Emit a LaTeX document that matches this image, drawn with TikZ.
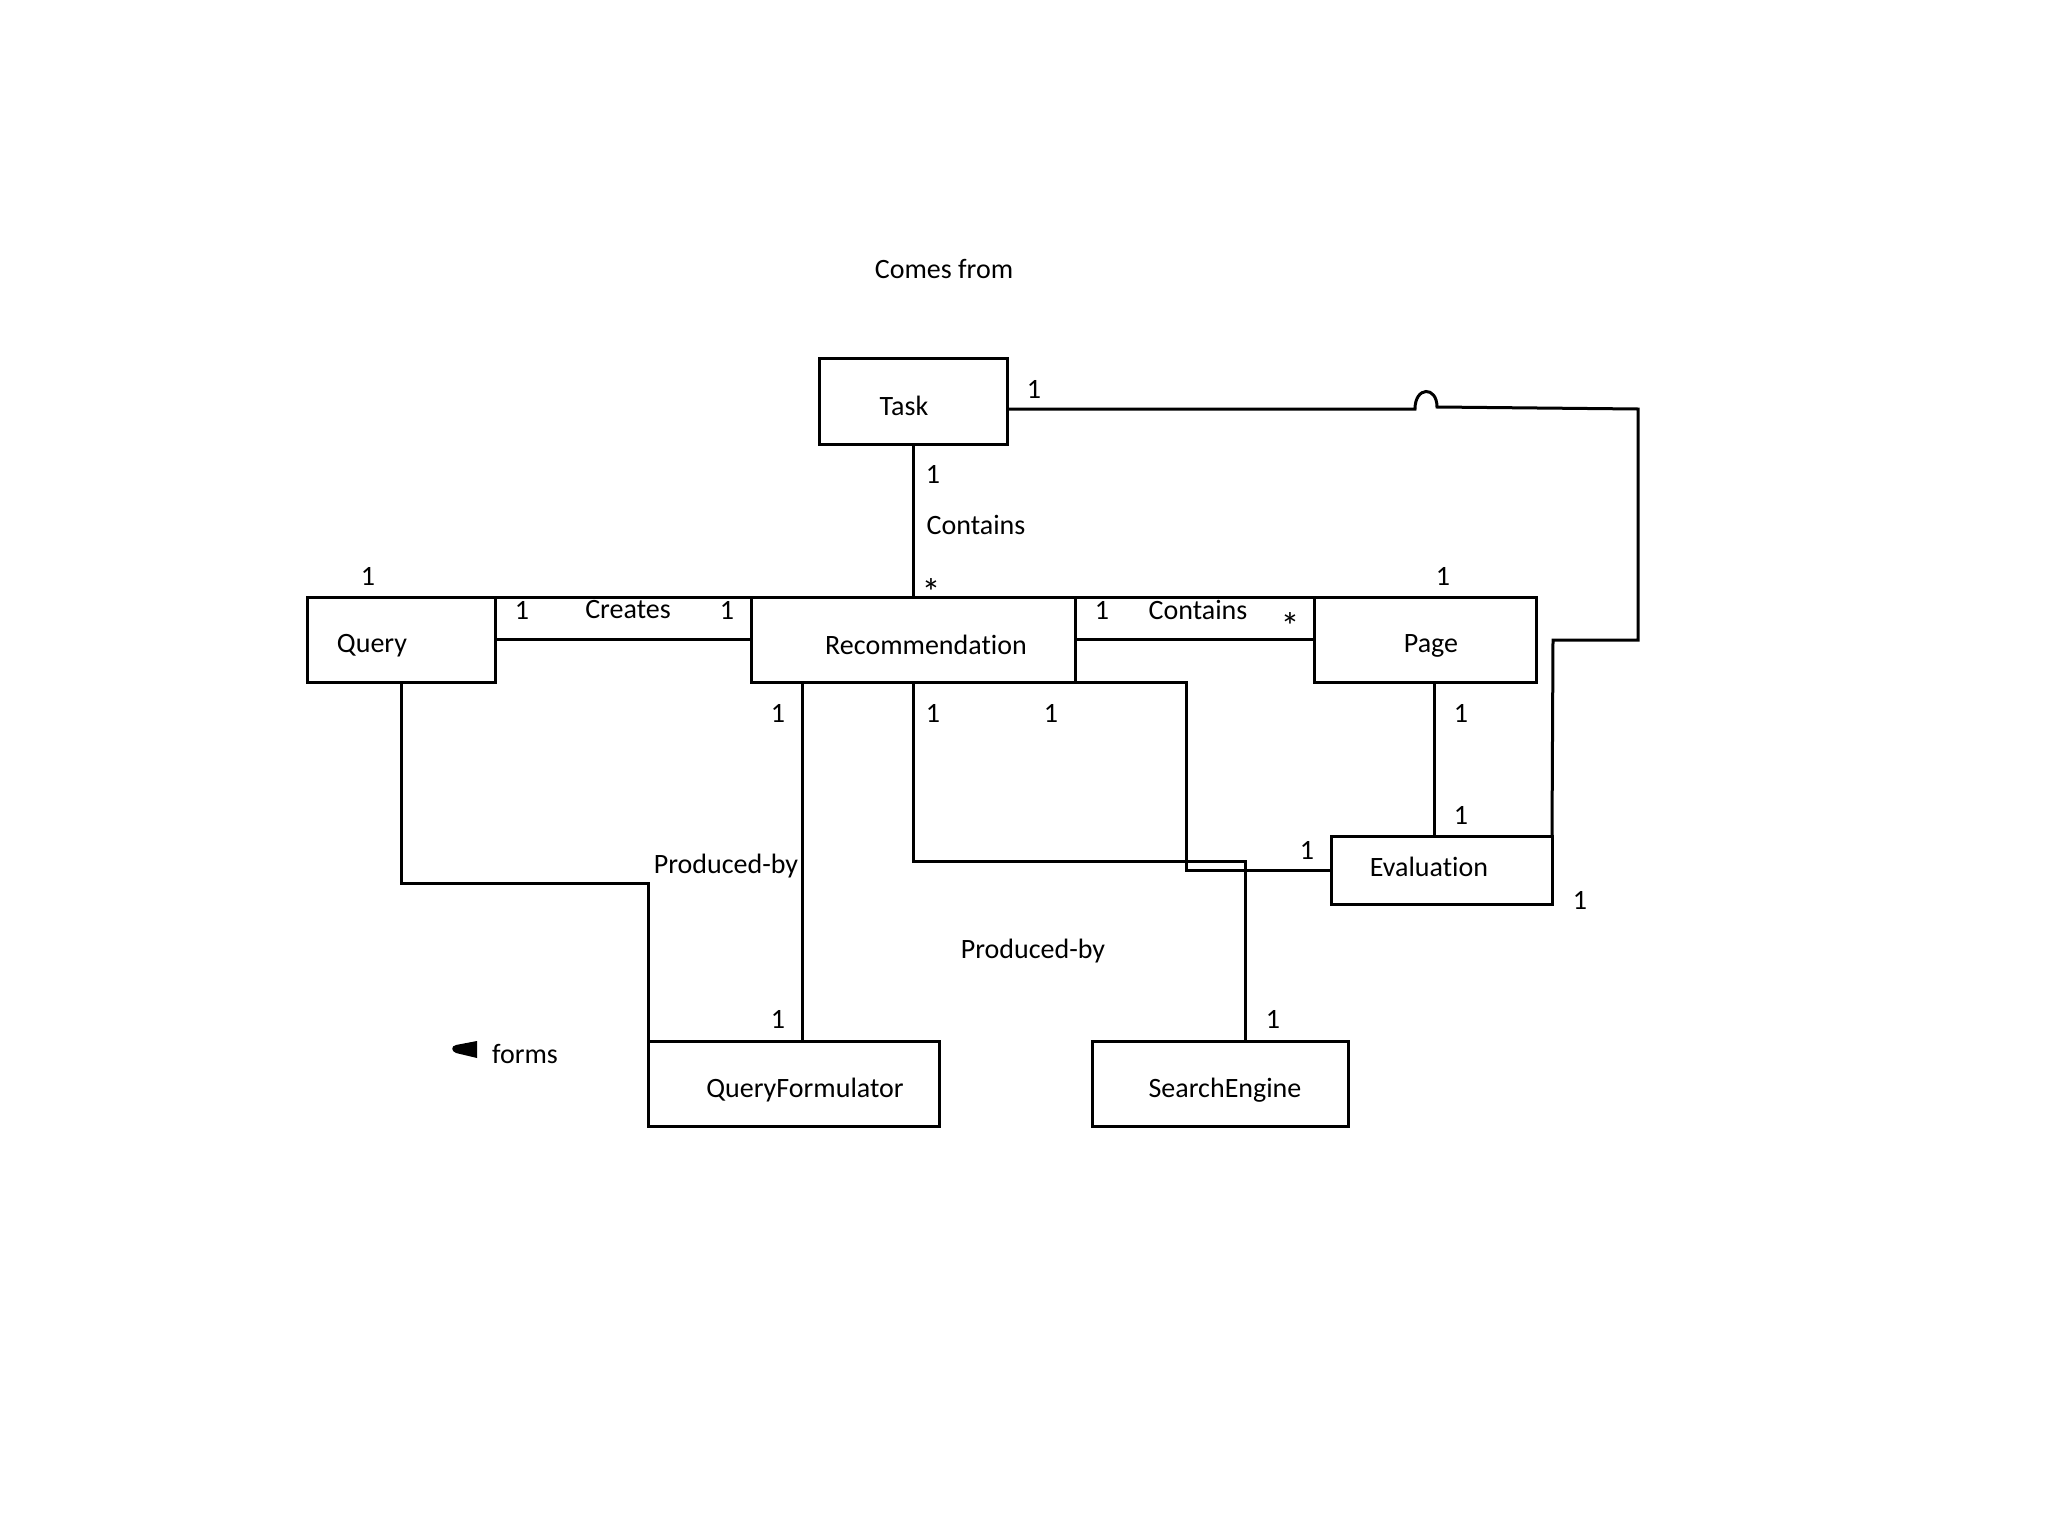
\documentclass[tikz,border=0pt]{standalone}
\usepackage{fontspec}
\setmainfont{Carlito}[Ligatures={NoCommon}]
\begin{document}
\begin{tikzpicture}[x=1pt,y=-1pt,
  box/.style={draw=black,line width=3pt,rectangle,inner sep=0pt,outer sep=0pt},
  txt/.style={font=\fontsize{28}{33}\selectfont,inner sep=0pt},
  star/.style={font=\fontsize{38}{40}\selectfont,inner sep=0pt},
  ln/.style={line width=3pt,line join=miter}]
\useasboundingbox[fill=white] (0,0) rectangle (2048,1536);
% boxes
\node[box,minimum width=188pt,minimum height=86pt] (task) at (913,401) {};
\node[box,minimum width=188pt,minimum height=85pt] (qry) at (401,639.5) {};
\node[box,minimum width=324pt,minimum height=85pt] (rec) at (913,639.5) {};
\node[box,minimum width=222pt,minimum height=85pt] (page) at (1425,639.5) {};
\node[box,minimum width=221pt,minimum height=68pt] (eval) at (1441.5,870) {};
\node[box,minimum width=291pt,minimum height=85pt] (qf) at (793.5,1083.5) {};
\node[box,minimum width=256pt,minimum height=85pt] (se) at (1220,1083.5) {};
% box texts
\node[txt] (ttask) at (904,406) {Task};
\node[txt] (tqry) at (372,646) {Query};
\node[txt] (trec) at (926,645) {Recommendation};
\node[txt] (tpage) at (1431,646) {Page};
\node[txt] (teval) at (1429,867) {Evaluation};
\node[txt] (tqf) at (805,1090) {QueryFormulator};
\node[txt] (tse) at (1225,1090) {SearchEngine};
% coordinates
\coordinate (hopA) at (1415,409);
\coordinate (hopB) at (1437,407);
\coordinate (rtop) at (1638,409);
\coordinate (rmid) at (1638,640);
\coordinate (emid) at (1553,640);
\coordinate (q1) at (401,883);
\coordinate (q2) at (648,883);
\coordinate (s1) at (913,861);
\coordinate (s2) at (1245,861);
\coordinate (e1) at (1186,682);
\coordinate (e2) at (1186,870);
% connectors
\draw[ln] (task.east |- hopA) -- (hopA) .. controls (1415,386) and (1437,386) .. (hopB) -- (rtop) -- (rmid) -- (emid) -- (eval.north east);
\draw[ln] (task.south) -- (rec.north);
\draw[ln] (qry.east) -- (rec.west);
\draw[ln] (qry.north east) -- (rec.north west);
\draw[ln] (rec.east) -- (page.west);
\draw[ln] (rec.north east) -- (page.north west);
\draw[ln] (qry.south) -- (q1) -- (q2) -- (qf.north west);
\draw[ln] (rec.south west -| 802,0) -- (qf.north -| 802,0);
\draw[ln] (rec.south) -- (s1) -- (s2) -- (se.north -| s2);
\draw[ln] (rec.south east) -- (e1) -- (e2) -- (eval.west);
\draw[ln] (page.south -| 1434,0) -- (eval.north -| 1434,0);
% labels
\node[txt] (lcomes) at (944,269) {Comes from};
\node[txt] (l1) at (1034,389) {1};
\node[txt] (l2) at (933,474) {1};
\node[txt] (lcont1) at (976,525) {Contains};
\node[star] (lstar1) at (931,592) {*};
\node[txt] (l3) at (368,576) {1};
\node[txt] (l4) at (522,610) {1};
\node[txt] (lcreates) at (628,610) {Creates};
\node[txt] (l5) at (727,610) {1};
\node[txt] (l6) at (1102,610) {1};
\node[txt] (lcont2) at (1198,610) {Contains};
\node[star] (lstar2) at (1290,626) {*};
\node[txt] (l7) at (1443,576) {1};
\node[txt] (l8) at (778,713) {1};
\node[txt] (l9) at (933,713) {1};
\node[txt] (l10) at (1051,713) {1};
\node[txt] (l11) at (1461,713) {1};
\node[txt] (l12) at (1461,815) {1};
\node[txt] (l13) at (1307,850) {1};
\node[txt] (l14) at (1580,900) {1};
\node[txt] (lpb1) at (726,866) {Produced-by};
\node[txt] (lpb2) at (1033,951) {Produced-by};
\node[txt] (l15) at (778,1019) {1};
\node[txt] (l16) at (1273,1019) {1};
\node[txt] (lforms) at (525,1054) {forms};
\fill (477,1041) -- (456,1045) .. controls (451,1046) and (451,1051) .. (456,1053) -- (477,1058) -- cycle;
\end{tikzpicture}
\end{document}
